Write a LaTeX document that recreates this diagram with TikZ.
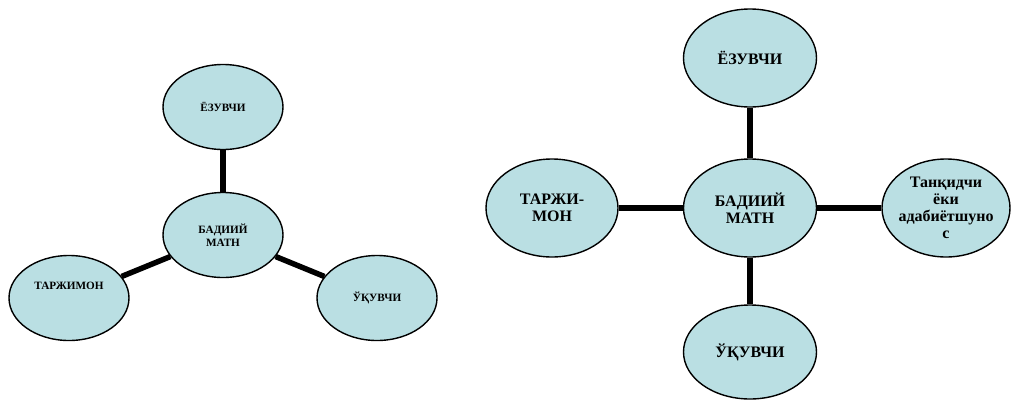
\documentclass[tikz,border=0pt]{standalone}
\usepackage{fontspec}
\setmainfont{Liberation Serif}[BoldFont={Liberation Serif Bold}]
\usetikzlibrary{shapes.geometric}
\definecolor{bubble}{RGB}{186,223,227}
\tikzset{
  bubble/.style={ellipse, draw=black, line width=1.4pt, fill=bubble, inner sep=0pt,
    align=center},
  smallfont/.style={font=\bfseries\fontsize{11.2}{12.7}\selectfont, align=center},
  bigfont/.style={font=\bfseries\fontsize{16}{17.2}\selectfont, align=center},
  smallb/.style={bubble, minimum width=120pt, minimum height=85pt, smallfont},
  bigb/.style={bubble, minimum width=133pt, minimum height=98pt, bigfont},
  connS/.style={line width=5.5pt},
  connB/.style={line width=6.2pt},
}
\begin{document}
\begin{tikzpicture}[x=1pt,y=-1pt]
\useasboundingbox (0,0) rectangle (1011,399);
% left diagram
\node[smallb] (lc) at (223,235) {\raisebox{-4pt}{\shortstack{БАДИИЙ\\[0.5pt]МАТН}}};
\node[smallb] (lt) at (223,107) {ЁЗУВЧИ};
\node[smallb, label={[name=lltext, smallfont, yshift=12pt]center:ТАРЖИМОН}] (ll) at (69,298) {};
\node[smallb] (lr) at (377,298) {ЎҚУВЧИ};
\draw[connS] (lc) -- (lt);
\draw[connS] (lc) -- (ll);
\draw[connS] (lc) -- (lr);
% right diagram
\node[bigb] (rc) at (750,208) {БАДИИЙ\\МАТН};
\node[bigb] (rt) at (750,58) {ЁЗУВЧИ};
\node[bigb, minimum width=132pt] (rl) at (552,208) {ТАРЖИ-\\МОН};
\node[bigb, minimum width=128pt,
  label={[name=rrtext, bigfont]center:{Танқидчи\\ёки\\адабиётшуно\\с}}] (rr) at (946,208) {};
\node[bigb, minimum height=94pt] (rb) at (750,352) {ЎҚУВЧИ};
\draw[connB] (rc) -- (rt);
\draw[connB] (rc) -- (rl);
\draw[connB] (rc) -- (rr);
\draw[connB] (rc) -- (rb);
\end{tikzpicture}
\end{document}
